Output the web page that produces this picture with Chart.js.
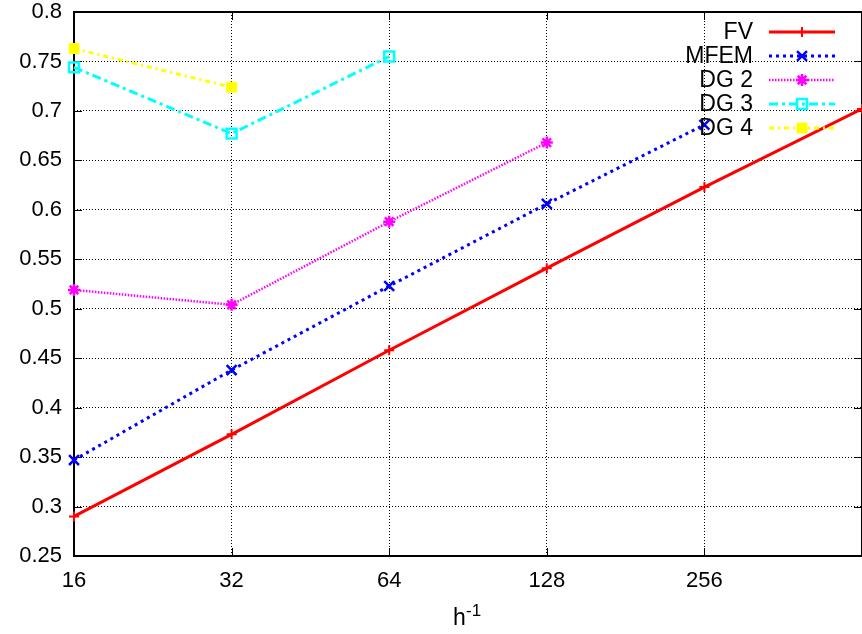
<!DOCTYPE html>
<html>
<head>
<meta charset="utf-8">
<script src="https://cdn.jsdelivr.net/npm/chart.js@4.4.1/dist/chart.umd.min.js"></script>
<style>
    html, body { margin: 0; padding: 0; background: #fff; overflow: hidden; }
    #wrap { width: 862px; height: 634px; }
</style>
</head>
<body>
<div id="wrap"><canvas id="grafico" width="862" height="634"></canvas></div>
<script>
// h^-1 values (log2 axis), last one is the right edge of the plot
const hInv = [16, 32, 64, 128, 256, 512];
const xTickLabels = ['16', '32', '64', '128', '256', ''];

const seriesNames = ['FV', 'MFEM', 'DG 2', 'DG 3', 'DG 4'];
const fv   = [0.290, 0.373, 0.458, 0.541, 0.623, 0.702];
const mfem = [0.347, 0.438, 0.523, 0.606, 0.686];
const dg2  = [0.519, 0.504, 0.588, 0.668];
const dg3  = [0.744, 0.677, 0.755];
const dg4  = [0.763, 0.724];

const yMin = 0.25;
const yMax = 0.8;
const yStep = 0.05;

const FONT = '"Liberation Sans", Arial, sans-serif';

const pontos = (valores) => valores.map((v, i) => ({ x: hInv[i], y: v }));

// frame with inward ticks, gnuplot style legend and the x axis title
const molduraELegenda = {
    id: 'molduraELegenda',
    beforeDatasetsDraw(chart) {
        const { ctx, chartArea: a, scales } = chart;
        ctx.save();
        ctx.strokeStyle = '#000';
        ctx.lineWidth = 2;
        ctx.strokeRect(a.left, a.top, a.right - a.left, a.bottom - a.top);

        ctx.lineWidth = 1;
        ctx.beginPath();
        scales.y.ticks.forEach(t => {
            const y = Math.round(scales.y.getPixelForValue(t.value)) + 0.5;
            ctx.moveTo(a.left, y); ctx.lineTo(a.left + 8, y);
            ctx.moveTo(a.right, y); ctx.lineTo(a.right - 8, y);
        });
        scales.x.ticks.forEach(t => {
            const x = Math.round(scales.x.getPixelForValue(t.value)) + 0.5;
            ctx.moveTo(x, a.bottom); ctx.lineTo(x, a.bottom - 8);
            ctx.moveTo(x, a.top); ctx.lineTo(x, a.top + 8);
        });
        ctx.stroke();
        ctx.restore();
    },
    afterDatasetsDraw(chart) {
        const { ctx, chartArea: a } = chart;
        ctx.save();
        ctx.font = '23px ' + FONT;
        ctx.textBaseline = 'middle';
        ctx.textAlign = 'right';
        chart.data.datasets.forEach((ds, i) => {
            const y = 32 + i * 24;
            ctx.fillStyle = '#000';
            ctx.fillText(ds.label, 753, y + 1);

            ctx.strokeStyle = ds.borderColor;
            ctx.lineWidth = ds.borderWidth;
            ctx.setLineDash(ds.borderDash || []);
            ctx.beginPath();
            ctx.moveTo(769, y);
            ctx.lineTo(835, y);
            ctx.stroke();
            ctx.setLineDash([]);

            ctx.strokeStyle = ds.pointBorderColor;
            ctx.fillStyle = ds.pointBackgroundColor;
            ctx.lineWidth = ds.pointBorderWidth;
            Chart.helpers.drawPoint(ctx, {
                pointStyle: ds.pointStyle,
                radius: ds.pointRadius,
                rotation: 0,
                borderWidth: ds.pointBorderWidth
            }, 802, y);
        });

        // h^-1
        const cx = (a.left + a.right) / 2;
        ctx.fillStyle = '#000';
        ctx.textAlign = 'left';
        ctx.textBaseline = 'alphabetic';
        ctx.font = '23px ' + FONT;
        ctx.fillText('h', cx - 15, 625);
        ctx.font = '17px ' + FONT;
        ctx.fillText('-1', cx - 2, 616);
        ctx.restore();
    }
};

const ctx = document.getElementById('grafico');

new Chart(ctx, {
    type: 'line',
    data: {
        datasets: [
            {
                label: seriesNames[0],
                data: pontos(fv),
                borderColor: '#ff0000',
                borderWidth: 3,
                borderDash: [],
                pointStyle: 'cross',
                pointRadius: 5,
                pointBorderWidth: 2,
                pointBorderColor: '#ff0000',
                pointBackgroundColor: '#ff0000'
            },
            {
                label: seriesNames[1],
                data: pontos(mfem),
                borderColor: '#0000ff',
                borderWidth: 3,
                borderDash: [3, 4],
                pointStyle: 'crossRot',
                pointRadius: 7,
                pointBorderWidth: 2.5,
                pointBorderColor: '#0000ff',
                pointBackgroundColor: '#0000ff'
            },
            {
                label: seriesNames[2],
                data: pontos(dg2),
                borderColor: '#ff00ff',
                borderWidth: 2.5,
                borderDash: [1.5, 1.5],
                pointStyle: 'star',
                pointRadius: 6,
                pointBorderWidth: 2.5,
                pointBorderColor: '#ff00ff',
                pointBackgroundColor: '#ff00ff'
            },
            {
                label: seriesNames[3],
                data: pontos(dg3),
                borderColor: '#00ffff',
                borderWidth: 3,
                borderDash: [9, 4, 3, 4],
                pointStyle: 'rect',
                pointRadius: 7,
                pointBorderWidth: 2.5,
                pointBorderColor: '#00ffff',
                pointBackgroundColor: 'rgba(0,0,0,0)'
            },
            {
                label: seriesNames[4],
                data: pontos(dg4),
                borderColor: '#ffff00',
                borderWidth: 3,
                borderDash: [5, 4, 2, 4],
                pointStyle: 'rect',
                pointRadius: 7,
                pointBorderWidth: 1,
                pointBorderColor: '#ffff00',
                pointBackgroundColor: '#ffff00'
            }
        ]
    },
    options: {
        responsive: false,
        animation: false,
        clip: false,
        layout: {
            autoPadding: false,
            padding: { top: 12, right: 0, left: 0, bottom: 0 }
        },
        elements: { line: { tension: 0, fill: false } },
        scales: {
            x: {
                type: 'logarithmic',
                min: hInv[0],
                max: hInv[hInv.length - 1],
                afterBuildTicks: (scale) => {
                    scale.ticks = hInv.map(v => ({ value: v }));
                },
                afterFit: (scale) => {
                    scale.height = 78;
                    scale.paddingLeft = 0;
                    scale.paddingRight = 0;
                },
                ticks: {
                    autoSkip: false,
                    maxRotation: 0,
                    padding: 12,
                    color: '#000',
                    font: { family: FONT, size: 22 },
                    callback: (v) => {
                        const i = hInv.indexOf(v);
                        return i >= 0 ? xTickLabels[i] : '';
                    }
                },
                grid: {
                    drawTicks: false,
                    color: '#000',
                    lineWidth: 1
                },
                border: { display: false, dash: [1, 2] }
            },
            y: {
                min: yMin,
                max: yMax,
                afterFit: (scale) => {
                    scale.width = 74;
                    scale.paddingTop = 0;
                    scale.paddingBottom = 0;
                },
                ticks: {
                    stepSize: yStep,
                    padding: 12,
                    color: '#000',
                    font: { family: FONT, size: 22, lineHeight: 1 },
                    callback: (v) => String(Number(v.toFixed(2)))
                },
                grid: {
                    drawTicks: false,
                    color: '#000',
                    lineWidth: 1
                },
                border: { display: false, dash: [1, 2] }
            }
        },
        plugins: {
            legend: { display: false },
            tooltip: { enabled: false }
        }
    },
    plugins: [molduraELegenda]
});
</script>
</body>
</html>
